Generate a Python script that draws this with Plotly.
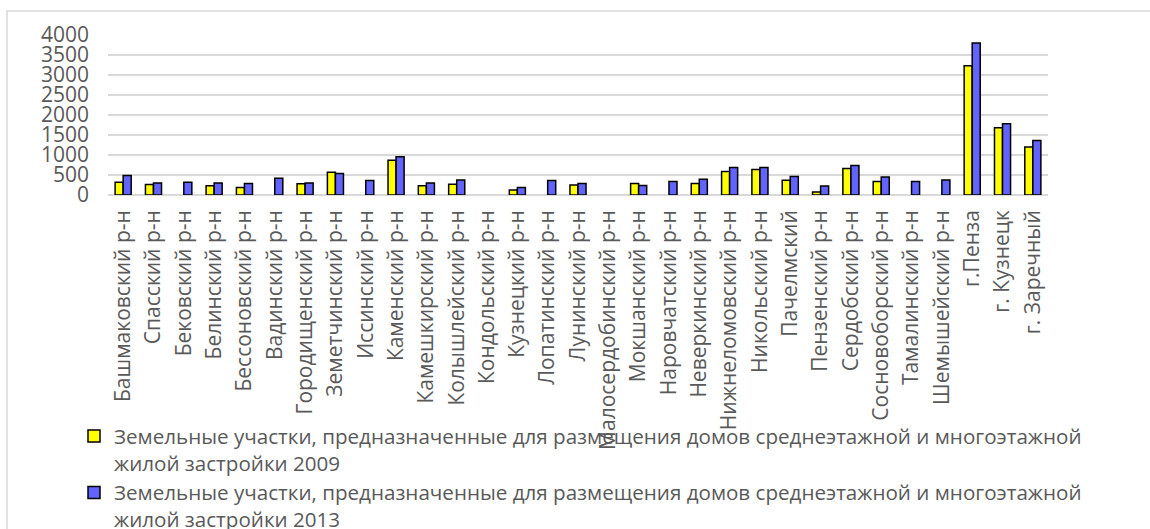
import plotly.graph_objects as go

# Districts and cities of Penza oblast
categories = [
    "Башмаковский р-н", "Спасский р-н", "Бековский р-н", "Белинский р-н",
    "Бессоновский р-н", "Вадинский р-н", "Городищенский р-н", "Земетчинский р-н",
    "Иссинский р-н", "Каменский р-н", "Камешкирский р-н", "Колышлейский р-н",
    "Кондольский р-н", "Кузнецкий р-н", "Лопатинский р-н", "Лунинский р-н",
    "Малосердобинский р-н", "Мокшанский р-н", "Наровчатский р-н", "Неверкинский р-н",
    "Нижнеломовский р-н", "Никольский р-н", "Пачелмский", "Пензенский р-н",
    "Сердобский р-н", "Сосновоборский р-н", "Тамалинский р-н", "Шемышейский р-н",
    "г.Пенза", "г. Кузнецк", "г. Заречный",
]

# Land plots for mid-rise and multi-storey housing, 2009
values_2009 = [
    320, 260, None, 230, 190, None, 280, 570, None, 870, 230, 270,
    None, 125, None, 250, None, 290, None, 285, 585, 635, 370, 75,
    660, 335, None, None, 3230, 1680, 1200,
]

# Same indicator, 2013
values_2013 = [
    490, 300, 320, 300, 285, 420, 300, 535, 360, 955, 300, 375,
    None, 185, 360, 285, None, 235, 335, 395, 690, 690, 465, 225,
    740, 450, 335, 375, 3800, 1780, 1365,
]

name_2009 = ("Земельные участки, предназначенные для размещения домов среднеэтажной и многоэтажной"
             "<br>жилой застройки 2009")
name_2013 = ("Земельные участки, предназначенные для размещения домов среднеэтажной и многоэтажной"
             "<br>жилой застройки 2013")

text_color = "#595959"
grid_color = "#d9d9d9"
font_family = "Open Sans"
font_size = 21
legend_font_size = 20.6

fig = go.Figure()
fig.add_trace(go.Bar(
    x=categories, y=values_2009, name=name_2009,
    marker=dict(color="#FFFF00", line=dict(color="#000000", width=1.5)),
))
fig.add_trace(go.Bar(
    x=categories, y=values_2013, name=name_2013,
    marker=dict(color="#6363FF", line=dict(color="#000000", width=1.5)),
))

W, H = 1150, 529
ml, mr, mt, mb = 108, 102, 35, 334
pw, ph = W - ml - mr, H - mt - mb


def px_x(px):
    return (px - ml) / pw


def px_y(py):
    return (H - mb - py) / ph


fig.update_layout(
    width=W, height=H,
    margin=dict(l=ml, r=mr, t=mt, b=mb, autoexpand=False),
    paper_bgcolor="white", plot_bgcolor="white",
    barmode="group", bargap=0.47, bargroupgap=0.0,
    font=dict(family=font_family, size=font_size, color=text_color),
    xaxis=dict(
        tickangle=-90, showgrid=False, showline=False, zeroline=False,
        ticks="", ticklabelstandoff=10,
        tickfont=dict(family=font_family, size=font_size, color=text_color),
    ),
    yaxis=dict(
        range=[0, 4000], dtick=500, showgrid=True, gridcolor=grid_color,
        gridwidth=1.5, zeroline=True, zerolinecolor=grid_color, zerolinewidth=1.5,
        showline=False, ticks="", ticklabelstandoff=18,
        tickfont=dict(family=font_family, size=font_size, color=text_color),
    ),
    legend=dict(
        orientation="v", x=px_x(74), xanchor="left", y=px_y(416), yanchor="top",
        valign="top", font=dict(family=font_family, size=legend_font_size, color=text_color),
        bgcolor="rgba(0,0,0,0)", tracegroupgap=0, itemwidth=30,
    ),
    shapes=[dict(
        type="rect", xref="paper", yref="paper",
        x0=px_x(7), x1=px_x(1170), y0=px_y(545), y1=px_y(11),
        line=dict(color=grid_color, width=1.5), fillcolor="rgba(0,0,0,0)", layer="below",
    )],
)

fig.write_html("out.html")
